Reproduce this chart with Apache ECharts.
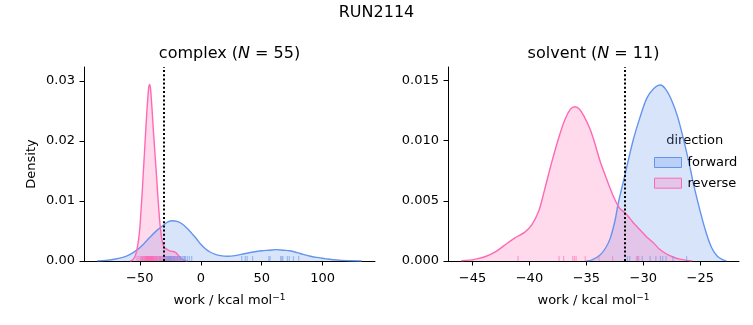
<!DOCTYPE html>
<html><head><meta charset="utf-8">
<script src="https://cdn.jsdelivr.net/npm/echarts@6/dist/echarts.min.js"></script>
<style>html,body{margin:0;padding:0;background:#fff}#c{width:753px;height:325px}</style>
</head><body><div id="c"></div>
<script>
// ---------- data ----------
const suptitle = 'RUN2114';
const panels = ['complex', 'solvent'];
const panelN = [55, 11];
const directions = ['forward', 'reverse'];
const legendTitle = 'direction';
const xAxisTitle = 'work / kcal mol';
const yAxisTitle = 'Density';

// complex KDE curves (x, density)
const cFwdX = [-85,-78,-71,-64,-58,-52,-47,-42,-36,-30.5,-27,-23.5,-19.5,-15.5,-11,-7.4,-3.5,-0.6,4,7.6,12,16,22,28,33,38,43,50,56,62,68,73,79,84,90,95,102,109,116,124,132];
const cFwdY = [0.00002,0.0001,0.0003,0.0006,0.0011,0.0019,0.0028,0.0039,0.0051,0.0060,0.0065,0.0067,0.0066,0.0062,0.0054,0.0046,0.0037,0.0029,0.0020,0.0015,0.0011,0.0009,0.0008,0.0009,0.0011,0.0013,0.0015,0.0017,0.0018,0.0019,0.0018,0.0017,0.0014,0.0011,0.0008,0.0006,0.0004,0.0002,0.0001,0.00003,0.00001];
const cRevX = [-58,-56.5,-55,-53.5,-52.3,-51,-50,-49.2,-48.3,-47.5,-46.7,-45.9,-45.1,-44.3,-43.5,-42.8,-42.1,-41.4,-40.7,-39.9,-39,-38,-37,-36.1,-35.1,-34.2,-33.1,-32,-31,-30,-29,-27.5,-25.5,-23.5,-21.5,-19.5,-17.5,-15.5,-13.5,-11];
const cRevY = [0,0.0001,0.0004,0.0010,0.0020,0.0036,0.0055,0.0079,0.0106,0.0135,0.0163,0.0191,0.0220,0.0246,0.0270,0.0287,0.0294,0.0290,0.0274,0.0250,0.0221,0.0191,0.0162,0.0135,0.0105,0.0079,0.0054,0.0037,0.0028,0.0023,0.0021,0.0019,0.0017,0.0016,0.0015,0.0012,0.0007,0.0003,0.0001,0];

// solvent KDE curves
const sFwdX = [-35,-34.5,-33.8,-33.3,-32.9,-32.5,-32.2,-31.6,-30.9,-30.3,-29.7,-29.1,-28.5,-28,-27.5,-27,-26.5,-26,-25.5,-25,-24.5,-24,-23.5,-23,-22.7];
const sFwdY = [0.00001,0.0001,0.0005,0.0011,0.0019,0.0033,0.0048,0.0072,0.0100,0.0119,0.0135,0.0143,0.0146,0.0142,0.0133,0.0120,0.0102,0.0082,0.0060,0.0041,0.0024,0.0011,0.0004,0.0001,0.00001];
const sRevX = [-46,-45.3,-44.8,-43.9,-43,-42.2,-41.3,-40.4,-39.8,-39.2,-38.7,-38.1,-37.5,-36.9,-36.4,-36,-35.6,-35.2,-34.7,-34.3,-33.8,-33.3,-32.9,-32.5,-32.1,-31.5,-30.9,-30.3,-29.7,-29.1,-28.6,-28,-27.4,-26.8,-26.2,-25.7];
const sRevY = [0.00002,0.00007,0.00014,0.00035,0.00075,0.0013,0.0019,0.0024,0.0030,0.0041,0.0058,0.0080,0.0100,0.0117,0.0126,0.0128,0.0126,0.0120,0.0110,0.0099,0.0083,0.0070,0.0060,0.0051,0.0044,0.0039,0.0032,0.0026,0.0020,0.0015,0.0010,0.0006,0.00033,0.00015,0.00005,0.00001];

// rug (individual work values)
const cFwdRug = [-48,-44.5,-41,-38.5,-36,-34,-32.5,-31,-30,-29.2,-28.5,-28.1,-27.8,-27.1,-26.8,-26.4,-25.8,-25.5,-25.1,-24.5,-24.1,-23.9,-23.2,-22.6,-22,-21.7,-21.3,-20.5,-19.7,-19.2,-18.9,-18,-17.2,-16.8,-16.3,-15.2,-14,-13.3,-12.6,-11,-9.4,-7.5,33.6,36.5,38,42.5,55.8,56.8,65.5,66.5,67.3,71,72.6,76,80.3];
const cRevRug = [-52.3,-50.8,-49.6,-48.9,-48.2,-47.5,-46.8,-46.4,-46.1,-45.4,-45.0,-44.9,-44.6,-44.2,-43.8,-43.6,-43.3,-43.1,-42.9,-42.7,-42.5,-42.1,-41.9,-41.7,-41.3,-41.0,-40.8,-40.6,-40.4,-40.1,-39.9,-39.5,-39.2,-38.9,-38.6,-38.3,-37.6,-37.2,-36.9,-36.2,-35.9,-35.4,-34.6,-33.7,-33.1,-32.8,-31.5,-30.2,-28.4,-26.9,-24.8,-22.3,-20.6,-18.9,-16.8];
const sFwdRug = [-31.4,-31.2,-30.5,-30.1,-29.4,-28.9,-28.5,-28.3,-28.0,-27.4,-26.2];
const sRevRug = [-41.0,-37.4,-37.0,-36.2,-36.05,-35.9,-35.1,-33.9,-32.7,-30.6,-30.4];

// reference vertical lines
const vLines = [-30.2, -31.6];

// axis ranges and ticks
const xRanges = [[-95.8, 142.9], [-47.15, -21.6]];
const yMax = [0.0323, 0.0161];
const xTicks = [[-50, 0, 50, 100], [-45, -40, -35, -30, -25]];
const yTicks = [[0, 0.01, 0.02, 0.03], [0, 0.005, 0.010, 0.015]];
const yDecimals = [2, 3];

// ---------- chart ----------
const FONT = 'DejaVu Sans';
const colFwd = '#6495ED', colRev = '#FF69B4';
const fillFwd = 'rgba(100,149,237,0.25)', fillRev = 'rgba(255,105,180,0.25)';
const zip = (xs, ys) => xs.map((x, i) => [x, ys[i]]);
const minus = v => String(v).replace('-', '\u2212');

const curves = [[zip(cFwdX, cFwdY), zip(cRevX, cRevY)], [zip(sFwdX, sFwdY), zip(sRevX, sRevY)]];
const rugs = [[cFwdRug, cRevRug], [sFwdRug, sRevRug]];

const grids = [
  {left: 84, top: 67, width: 291, height: 194},
  {left: 448, top: 67, width: 291, height: 194}
];

const xAxes = [0, 1].map(i => ({
  type: 'value', gridIndex: i, min: xRanges[i][0], max: xRanges[i][1],
  axisLine: {onZero: false, lineStyle: {color: '#000', width: 1}},
  axisTick: {customValues: xTicks[i], length: 4.5, lineStyle: {color: '#000', width: 1}},
  axisLabel: {customValues: xTicks[i], formatter: v => minus(v), fontSize: 13, fontFamily: FONT, color: '#000', margin: 11},
  splitLine: {show: false},
  name: '{a|' + xAxisTitle + '}{s|\u22121}', nameLocation: 'middle', nameGap: 32,
  nameTextStyle: {rich: {
    a: {fontSize: 13, fontFamily: FONT, color: '#000', lineHeight: 16},
    s: {fontSize: 9, fontFamily: FONT, color: '#000', lineHeight: 16, verticalAlign: 'top', padding: [0, 0, 8, 0]}
  }}
}));

const yAxes = [0, 1].map(i => ({
  type: 'value', gridIndex: i, min: 0, max: yMax[i],
  axisLine: {show: true, onZero: false, lineStyle: {color: '#000', width: 1}},
  axisTick: {show: true, customValues: yTicks[i], length: 4.5, lineStyle: {color: '#000', width: 1}},
  axisLabel: {customValues: yTicks[i], formatter: v => Number(v).toFixed(yDecimals[i]), fontSize: 13, fontFamily: FONT, color: '#000', margin: 9},
  splitLine: {show: false},
  name: i === 0 ? yAxisTitle : '', nameLocation: 'middle', nameGap: 46, nameRotate: 90,
  nameTextStyle: {fontSize: 13, fontFamily: FONT, color: '#000'}
}));

const series = [];
[0, 1].forEach(i => {
  // rugs
  [[rugs[i][0], colFwd], [rugs[i][1], colRev]].forEach(([vals, col], k) => {
    series.push({
      type: 'scatter', name: directions[k] + ' rug', xAxisIndex: i, yAxisIndex: i,
      data: vals.map(v => [v, 0]), symbol: 'rect', symbolSize: [1.2, 5], symbolOffset: [0, -2.5],
      itemStyle: {color: col, opacity: 0.55}, clip: false, silent: true, z: 3
    });
  });
  // kde curves
  [[curves[i][0], colFwd, fillFwd], [curves[i][1], colRev, fillRev]].forEach(([data, col, fill], k) => {
    const s = {
      type: 'line', name: directions[k], xAxisIndex: i, yAxisIndex: i, data: data,
      smooth: 0.35, symbol: 'none', lineStyle: {color: col, width: 1.4},
      itemStyle: {color: col}, areaStyle: {color: fill, opacity: 1}, z: 2, silent: true
    };
    if (k === 1) {
      s.markLine = {
        silent: true, symbol: ['none', 'none'], label: {show: false}, z: 5,
        lineStyle: {color: '#000', type: [2, 2.2], width: 2},
        data: [{xAxis: vLines[i]}]
      };
    }
    series.push(s);
  });
});

const titleText = i => '{a|' + panels[i] + ' (}{i|N}{a| = ' + panelN[i] + ')}';
const titleRich = {
  a: {fontSize: 16, fontFamily: FONT, fill: '#000'},
  i: {fontSize: 16, fontFamily: FONT, fontStyle: 'italic', fill: '#000'}
};

const option = {
  animation: false,
  backgroundColor: '#fff',
  grid: grids,
  xAxis: xAxes,
  yAxis: yAxes,
  series: series,
  legend: {
    data: [
      {name: directions[0], itemStyle: {color: fillFwd, borderColor: colFwd, borderWidth: 1}},
      {name: directions[1], itemStyle: {color: fillRev, borderColor: colRev, borderWidth: 1}}
    ],
    orient: 'vertical', left: 649, top: 150, icon: 'rect', itemWidth: 27, itemHeight: 10, itemGap: 5.7,
    selectedMode: false,
    textStyle: {fontSize: 13, fontFamily: FONT, color: '#000', lineHeight: 15, padding: [0, 0, 0, 1]}
  },
  graphic: [
    {type: 'text', x: 376.5, y: 13, style: {text: suptitle, fontSize: 16, fontFamily: FONT, fill: '#000', align: 'center', verticalAlign: 'middle'}},
    {type: 'text', x: 229.5, y: 54, style: {text: titleText(0), rich: titleRich, fontSize: 16, fontFamily: FONT, fill: '#000', align: 'center', verticalAlign: 'middle'}},
    {type: 'text', x: 593.5, y: 54, style: {text: titleText(1), rich: titleRich, fontSize: 16, fontFamily: FONT, fill: '#000', align: 'center', verticalAlign: 'middle'}},
    {type: 'text', x: 694.7, y: 141, style: {text: legendTitle, fontSize: 13, fontFamily: FONT, fill: '#000', align: 'center', verticalAlign: 'middle'}}
  ]
};

const chart = echarts.init(document.getElementById('c'), null, {renderer: 'canvas'});
chart.setOption(option);
</script>
</body></html>
